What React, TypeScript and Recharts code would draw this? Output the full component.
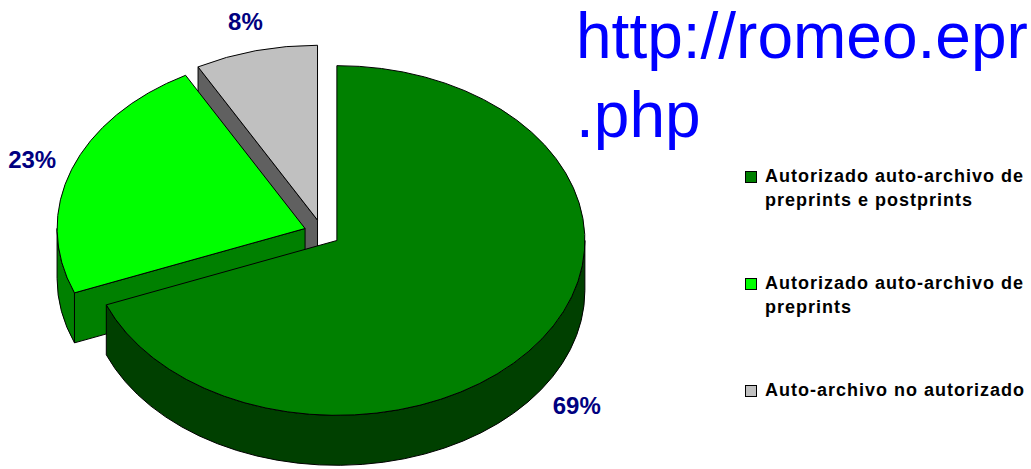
import React from 'react';
import { PieChart, Pie, Legend } from 'recharts';

// ---- data ----
const categories: string[] = [
  'Autorizado auto-archivo de preprints e postprints',
  'Autorizado auto-archivo de preprints',
  'Auto-archivo no autorizado',
];
const values: number[] = [69, 23, 8];
const topColors: string[] = ['#008000', '#00FF00', '#C0C0C0'];
const sideColors: string[] = ['#004000', '#008000', '#606060'];
const titleLines: string[] = ['http://romeo.eprints.org/stats', '.php'];

const data = categories.map((name, i) => ({ name, value: values[i] }));

// ---- 3D look (styling) ----
const RAD = Math.PI / 180;
const TILT = 0.705; // ellipse ry / rx
const DEPTH = 50;
const EXPLODE = 18;
const EXPLODE_TILT = 0.74;
const LABEL_RX = 290;
const LABEL_RY = 205;
const FONT = '"Liberation Sans", Arial, Helvetica, sans-serif';

function sliceCenter(cx: number, cy: number, mid: number) {
  return {
    ox: cx + EXPLODE * Math.cos(mid * RAD),
    oy: cy - EXPLODE * EXPLODE_TILT * Math.sin(mid * RAD),
  };
}

function Slice3D(props: any) {
  const { cx, cy, outerRadius, startAngle, endAngle, index } = props;
  const rx = outerRadius;
  const ry = outerRadius * TILT;
  const lo = Math.min(startAngle, endAngle);
  const hi = Math.max(startAngle, endAngle);
  const mid = (lo + hi) / 2;
  const { ox, oy } = sliceCenter(cx, cy, mid);
  const P = (t: number): [number, number] => [ox + rx * Math.cos(t * RAD), oy - ry * Math.sin(t * RAD)];
  const top = topColors[index];
  const side = sideColors[index];
  const faces: string[] = [];

  // radial faces
  const radial = (a: number) => {
    const [x, y] = P(a);
    return `M${ox},${oy} L${x},${y} L${x},${y + DEPTH} L${ox},${oy + DEPTH} Z`;
  };
  if (Math.cos(lo * RAD) > 0.01) faces.push(radial(lo));
  if (Math.cos(hi * RAD) < -0.01) faces.push(radial(hi));

  // curved front faces
  for (let k = -3; k <= 2; k++) {
    const s = Math.max(lo, 180 + 360 * k);
    const e = Math.min(hi, 360 + 360 * k);
    if (e - s > 0.01) {
      const [sx, sy] = P(s);
      const [ex, ey] = P(e);
      faces.push(
        `M${sx},${sy} A${rx},${ry} 0 0 0 ${ex},${ey} L${ex},${ey + DEPTH} A${rx},${ry} 0 0 1 ${sx},${sy + DEPTH} Z`
      );
    }
  }

  const [hx, hy] = P(hi);
  const [lx, ly] = P(lo);
  const large = hi - lo > 180 ? 1 : 0;
  const topPath = `M${ox},${oy} L${hx},${hy} A${rx},${ry} 0 ${large} 1 ${lx},${ly} Z`;

  return (
    <g>
      {faces.map((d, i) => (
        <path key={i} d={d} fill={side} stroke="#000" strokeWidth={1} strokeLinejoin="round" />
      ))}
      <path d={topPath} fill={top} stroke="#000" strokeWidth={1} strokeLinejoin="round" />
    </g>
  );
}

function PercentLabel(props: any) {
  const { cx, cy, startAngle, endAngle, percent } = props;
  const mid = (startAngle + endAngle) / 2;
  const { ox, oy } = sliceCenter(cx, cy, mid);
  const s = Math.sin(mid * RAD);
  const x = ox + LABEL_RX * Math.cos(mid * RAD);
  const y = oy - LABEL_RY * s + (s < 0 ? DEPTH : 0);
  return (
    <text
      x={x}
      y={y}
      textAnchor="middle"
      dominantBaseline="central"
      fill="#000080"
      fontFamily={FONT}
      fontWeight="bold"
      fontSize={24}
    >
      {`${Math.round(percent * 100)}%`}
    </text>
  );
}

const makeLabel = (drawIndex: number, withText: boolean) => (props: any) => {
  const showSlice = props.index === drawIndex;
  if (!showSlice && !withText) return null;
  return (
    <g key={`lbl-${drawIndex}-${props.index}`}>
      {showSlice ? <Slice3D {...props} /> : null}
      {withText ? <PercentLabel {...props} /> : null}
    </g>
  );
};

const LegendContent = () => (
  <div
    style={{
      position: 'relative',
      width: 286,
      height: 250,
      fontFamily: FONT,
      fontWeight: 'bold',
      fontSize: 18,
      letterSpacing: 1,
      color: '#000',
    }}
  >
    {categories.map((c, i) => (
      <div key={c} style={{ position: 'absolute', left: 0, top: i * 107, display: 'flex' }}>
        <span
          style={{
            display: 'block',
            width: 10,
            height: 10,
            border: '1px solid #000',
            background: topColors[i],
            marginTop: 6,
            flex: 'none',
          }}
        />
        <span style={{ display: 'block', marginLeft: 8, width: 268, lineHeight: '23.5px' }}>{c}</span>
      </div>
    ))}
  </div>
);

// back-to-front drawing order: gray, light green, green
const drawOrder = [2, 1, 0];

export default function App() {
  return (
    <div
      style={{
        position: 'absolute',
        left: 0,
        top: 0,
        width: 1031,
        height: 469,
        overflow: 'hidden',
        background: '#fff',
      }}
    >
      <div
        style={{
          position: 'absolute',
          left: 576,
          top: -3,
          fontFamily: FONT,
          fontSize: 64,
          lineHeight: '79px',
          color: '#0000FF',
          whiteSpace: 'nowrap',
        }}
      >
        {titleLines.map((t) => (
          <div key={t}>{t}</div>
        ))}
      </div>
      <PieChart width={1031} height={469} margin={{ top: 0, right: 0, bottom: 0, left: 0 }}>
        {drawOrder.map((k, j) => (
          <Pie
            key={k}
            data={data}
            dataKey="value"
            nameKey="name"
            cx={322}
            cy={233}
            outerRadius={248}
            startAngle={90}
            endAngle={-270}
            fill="none"
            stroke="none"
            isAnimationActive={false}
            labelLine={false}
            label={makeLabel(k, j === drawOrder.length - 1)}
          />
        ))}
        <Legend
          layout="vertical"
          align="right"
          verticalAlign="top"
          content={() => <LegendContent />}
          wrapperStyle={{ position: 'absolute', left: 745, top: 165, width: 286 }}
        />
      </PieChart>
    </div>
  );
}
